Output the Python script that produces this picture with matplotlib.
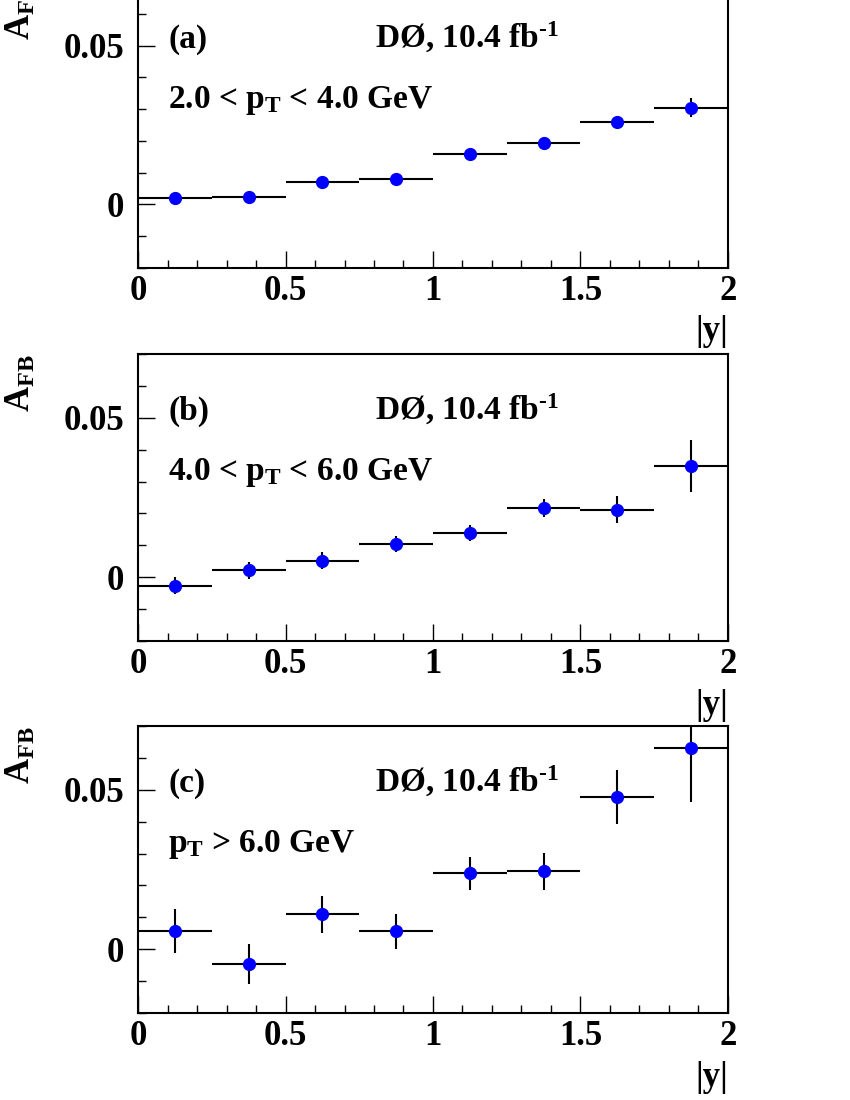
import matplotlib
matplotlib.use("Agg")
import matplotlib.pyplot as plt
from matplotlib.ticker import FixedLocator, MultipleLocator, FuncFormatter

plt.rcParams['font.family'] = ['Liberation Serif', 'DejaVu Serif']
plt.rcParams['font.weight'] = 'bold'
plt.rcParams['mathtext.fontset'] = 'custom'
plt.rcParams['mathtext.rm'] = 'Liberation Serif:bold'
plt.rcParams['mathtext.it'] = 'Liberation Serif:bold'
plt.rcParams['mathtext.bf'] = 'Liberation Serif:bold'

# |y| bins
y_centers = [0.125, 0.375, 0.625, 0.875, 1.125, 1.375, 1.625, 1.875]
y_halfwidth = [0.125] * 8

# A_FB per pT range
afb_a = [0.0021, 0.0024, 0.0069, 0.0081, 0.0160, 0.0194, 0.0261, 0.0305]
err_a = [0.0007, 0.0007, 0.0008, 0.0008, 0.0009, 0.0010, 0.0012, 0.0030]

afb_b = [-0.0027, 0.0021, 0.0051, 0.0103, 0.0139, 0.0216, 0.0212, 0.0349]
err_b = [0.0027, 0.0027, 0.0027, 0.0025, 0.0025, 0.0028, 0.0042, 0.0083]

afb_c = [0.0058, -0.0047, 0.0110, 0.0056, 0.0238, 0.0244, 0.0477, 0.0631]
err_c = [0.0069, 0.0063, 0.0058, 0.0054, 0.0052, 0.0057, 0.0085, 0.0168]

panel_tags = ['(a)', '(b)', '(c)']
pt_labels = [r'2.0 < $\mathrm{p_{T}}$ < 4.0 GeV',
             r'4.0 < $\mathrm{p_{T}}$ < 6.0 GeV',
             r'$\mathrm{p_{T}}$ > 6.0 GeV']
lumi_label = r'DØ, 10.4 fb$^{\text{-1}}$'

fig = plt.figure(figsize=(8.5, 11), dpi=100)

# panel boxes (left, bottom, width, height) in figure fraction
boxes = [
    (0.1624, 0.7566, 0.694, 0.2595),
    (0.1624, 0.4175, 0.694, 0.2604),
    (0.1624, 0.0791, 0.694, 0.2609),
]
values = [afb_a, afb_b, afb_c]
errors = [err_a, err_b, err_c]


def fmt(v, pos):
    if abs(v) < 1e-9:
        return '0'
    return ('%g' % v)


for box, vals, errs, tag, ptl in zip(boxes, values, errors, panel_tags, pt_labels):
    ax = fig.add_axes(box)
    ax.errorbar(y_centers, vals, xerr=y_halfwidth, yerr=errs,
                fmt='o', color='blue', markersize=8.5,
                ecolor='black', elinewidth=1.5, capsize=0, zorder=3)

    ax.set_xlim(0, 2)
    ax.set_ylim(-0.02, 0.07)

    ax.xaxis.set_major_locator(FixedLocator([0, 0.5, 1, 1.5, 2]))
    ax.xaxis.set_minor_locator(MultipleLocator(0.1))
    ax.yaxis.set_major_locator(FixedLocator([0, 0.05]))
    ax.yaxis.set_minor_locator(MultipleLocator(0.01))
    ax.xaxis.set_major_formatter(FuncFormatter(fmt))
    ax.yaxis.set_major_formatter(FuncFormatter(fmt))

    ax.tick_params(which='both', direction='in', top=False, right=False,
                   width=1.0, color='black', labelsize=25)
    ax.tick_params(which='major', length=12)
    ax.tick_params(which='minor', length=6)
    ax.tick_params(axis='x', pad=5)
    ax.tick_params(axis='y', pad=10)
    for s in ax.spines.values():
        s.set_linewidth(1.5)

    ax.text(0.102, 0.0493, tag, fontsize=24, ha='left', va='baseline')
    ax.text(0.803, 0.0493, lumi_label, fontsize=24, ha='left', va='baseline')
    ax.text(0.102, 0.0304, ptl, fontsize=24, ha='left', va='baseline')

    ax.text(1.0, -0.225, '|y|', transform=ax.transAxes, fontsize=25,
            ha='right', va='center')
    ax.text(-0.197, 1.0, r'$\mathrm{A_{FB}}$', transform=ax.transAxes,
            fontsize=25, rotation=90, ha='center', va='top')

fig.savefig('out.png', dpi=100)
